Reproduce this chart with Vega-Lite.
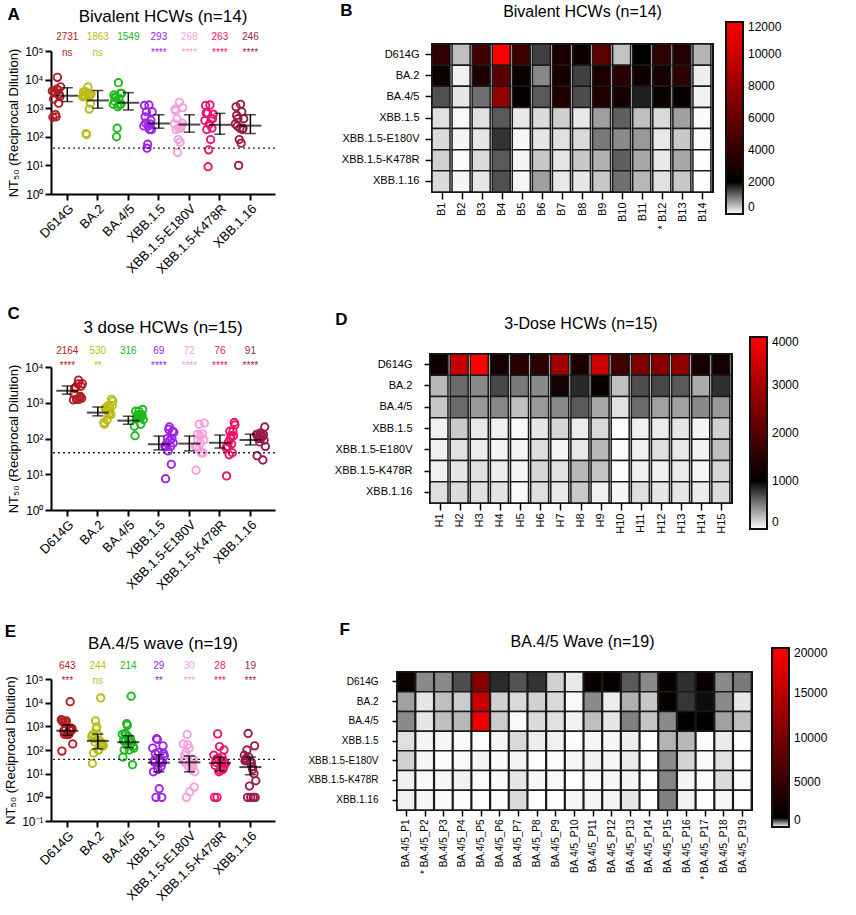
{
"$schema": "https://vega.github.io/schema/vega-lite/v6.json",
"padding": {"left": 4, "top": 2, "right": 5, "bottom": 5},
"config": {
  "font": "Liberation Sans",
  "view": {"stroke": null},
  "axis": {"domainColor": "black", "tickColor": "black", "labelColor": "black", "titleColor": "black", "grid": false, "titleFontWeight": "normal", "labelFont": "Liberation Sans", "titleFont": "Liberation Sans"},
  "title": {"font": "Liberation Sans", "fontWeight": "normal", "color": "black"},
  "legend": {"labelFont": "Liberation Sans", "labelColor": "black"}
},
"datasets": {
  "bival": [
    {"d":"B1","v":"D614G","t":4000},{"d":"B2","v":"D614G","t":500},{"d":"B3","v":"D614G","t":4600},{"d":"B4","v":"D614G","t":12000},{"d":"B5","v":"D614G","t":4300},{"d":"B6","v":"D614G","t":1500},{"d":"B7","v":"D614G","t":3000},{"d":"B8","v":"D614G","t":2500},{"d":"B9","v":"D614G","t":5600},{"d":"B10","v":"D614G","t":480},{"d":"B11","v":"D614G","t":2100},{"d":"B12","v":"D614G","t":3800},{"d":"B13","v":"D614G","t":3400},{"d":"B14","v":"D614G","t":600},
    {"d":"B1","v":"BA.2","t":2500},{"d":"B2","v":"BA.2","t":120},{"d":"B3","v":"BA.2","t":3300},{"d":"B4","v":"BA.2","t":5500},{"d":"B5","v":"BA.2","t":2500},{"d":"B6","v":"BA.2","t":930},{"d":"B7","v":"BA.2","t":2900},{"d":"B8","v":"BA.2","t":1500},{"d":"B9","v":"BA.2","t":3100},{"d":"B10","v":"BA.2","t":3700},{"d":"B11","v":"BA.2","t":2700},{"d":"B12","v":"BA.2","t":2900},{"d":"B13","v":"BA.2","t":3800},{"d":"B14","v":"BA.2","t":130},
    {"d":"B1","v":"BA.4/5","t":1370},{"d":"B2","v":"BA.4/5","t":200},{"d":"B3","v":"BA.4/5","t":1120},{"d":"B4","v":"BA.4/5","t":7800},{"d":"B5","v":"BA.4/5","t":2200},{"d":"B6","v":"BA.4/5","t":1300},{"d":"B7","v":"BA.4/5","t":3300},{"d":"B8","v":"BA.4/5","t":1400},{"d":"B9","v":"BA.4/5","t":3300},{"d":"B10","v":"BA.4/5","t":2900},{"d":"B11","v":"BA.4/5","t":1750},{"d":"B12","v":"BA.4/5","t":2500},{"d":"B13","v":"BA.4/5","t":2300},{"d":"B14","v":"BA.4/5","t":100},
    {"d":"B1","v":"XBB.1.5","t":240},{"d":"B2","v":"XBB.1.5","t":55},{"d":"B3","v":"XBB.1.5","t":240},{"d":"B4","v":"XBB.1.5","t":1300},{"d":"B5","v":"XBB.1.5","t":180},{"d":"B6","v":"XBB.1.5","t":280},{"d":"B7","v":"XBB.1.5","t":380},{"d":"B8","v":"XBB.1.5","t":180},{"d":"B9","v":"XBB.1.5","t":750},{"d":"B10","v":"XBB.1.5","t":1250},{"d":"B11","v":"XBB.1.5","t":500},{"d":"B12","v":"XBB.1.5","t":300},{"d":"B13","v":"XBB.1.5","t":750},{"d":"B14","v":"XBB.1.5","t":40},
    {"d":"B1","v":"XBB.1.5-E180V","t":280},{"d":"B2","v":"XBB.1.5-E180V","t":80},{"d":"B3","v":"XBB.1.5-E180V","t":200},{"d":"B4","v":"XBB.1.5-E180V","t":1600},{"d":"B5","v":"XBB.1.5-E180V","t":65},{"d":"B6","v":"XBB.1.5-E180V","t":200},{"d":"B7","v":"XBB.1.5-E180V","t":240},{"d":"B8","v":"XBB.1.5-E180V","t":300},{"d":"B9","v":"XBB.1.5-E180V","t":1050},{"d":"B10","v":"XBB.1.5-E180V","t":920},{"d":"B11","v":"XBB.1.5-E180V","t":800},{"d":"B12","v":"XBB.1.5-E180V","t":180},{"d":"B13","v":"XBB.1.5-E180V","t":430},{"d":"B14","v":"XBB.1.5-E180V","t":28},
    {"d":"B1","v":"XBB.1.5-K478R","t":370},{"d":"B2","v":"XBB.1.5-K478R","t":35},{"d":"B3","v":"XBB.1.5-K478R","t":280},{"d":"B4","v":"XBB.1.5-K478R","t":1300},{"d":"B5","v":"XBB.1.5-K478R","t":80},{"d":"B6","v":"XBB.1.5-K478R","t":430},{"d":"B7","v":"XBB.1.5-K478R","t":200},{"d":"B8","v":"XBB.1.5-K478R","t":430},{"d":"B9","v":"XBB.1.5-K478R","t":620},{"d":"B10","v":"XBB.1.5-K478R","t":1250},{"d":"B11","v":"XBB.1.5-K478R","t":680},{"d":"B12","v":"XBB.1.5-K478R","t":180},{"d":"B13","v":"XBB.1.5-K478R","t":680},{"d":"B14","v":"XBB.1.5-K478R","t":9},
    {"d":"B1","v":"XBB.1.16","t":280},{"d":"B2","v":"XBB.1.16","t":80},{"d":"B3","v":"XBB.1.16","t":200},{"d":"B4","v":"XBB.1.16","t":1370},{"d":"B5","v":"XBB.1.16","t":60},{"d":"B6","v":"XBB.1.16","t":750},{"d":"B7","v":"XBB.1.16","t":180},{"d":"B8","v":"XBB.1.16","t":200},{"d":"B9","v":"XBB.1.16","t":430},{"d":"B10","v":"XBB.1.16","t":1120},{"d":"B11","v":"XBB.1.16","t":560},{"d":"B12","v":"XBB.1.16","t":240},{"d":"B13","v":"XBB.1.16","t":430},{"d":"B14","v":"XBB.1.16","t":10}
  ],
  "dose3": [
    {"d":"H1","v":"D614G","t":1200},{"d":"H2","v":"D614G","t":3350},{"d":"H3","v":"D614G","t":4300},{"d":"H4","v":"D614G","t":1250},{"d":"H5","v":"D614G","t":1450},{"d":"H6","v":"D614G","t":1500},{"d":"H7","v":"D614G","t":2900},{"d":"H8","v":"D614G","t":1330},{"d":"H9","v":"D614G","t":3400},{"d":"H10","v":"D614G","t":1750},{"d":"H11","v":"D614G","t":2500},{"d":"H12","v":"D614G","t":2600},{"d":"H13","v":"D614G","t":2700},{"d":"H14","v":"D614G","t":1240},{"d":"H15","v":"D614G","t":1250},
    {"d":"H1","v":"BA.2","t":280},{"d":"H2","v":"BA.2","t":580},{"d":"H3","v":"BA.2","t":460},{"d":"H4","v":"BA.2","t":720},{"d":"H5","v":"BA.2","t":520},{"d":"H6","v":"BA.2","t":460},{"d":"H7","v":"BA.2","t":1250},{"d":"H8","v":"BA.2","t":840},{"d":"H9","v":"BA.2","t":1100},{"d":"H10","v":"BA.2","t":250},{"d":"H11","v":"BA.2","t":690},{"d":"H12","v":"BA.2","t":720},{"d":"H13","v":"BA.2","t":650},{"d":"H14","v":"BA.2","t":330},{"d":"H15","v":"BA.2","t":810},
    {"d":"H1","v":"BA.4/5","t":220},{"d":"H2","v":"BA.4/5","t":580},{"d":"H3","v":"BA.4/5","t":400},{"d":"H4","v":"BA.4/5","t":470},{"d":"H5","v":"BA.4/5","t":250},{"d":"H6","v":"BA.4/5","t":400},{"d":"H7","v":"BA.4/5","t":460},{"d":"H8","v":"BA.4/5","t":650},{"d":"H9","v":"BA.4/5","t":340},{"d":"H10","v":"BA.4/5","t":120},{"d":"H11","v":"BA.4/5","t":580},{"d":"H12","v":"BA.4/5","t":370},{"d":"H13","v":"BA.4/5","t":370},{"d":"H14","v":"BA.4/5","t":460},{"d":"H15","v":"BA.4/5","t":400},
    {"d":"H1","v":"XBB.1.5","t":60},{"d":"H2","v":"XBB.1.5","t":210},{"d":"H3","v":"XBB.1.5","t":90},{"d":"H4","v":"XBB.1.5","t":60},{"d":"H5","v":"XBB.1.5","t":19},{"d":"H6","v":"XBB.1.5","t":100},{"d":"H7","v":"XBB.1.5","t":160},{"d":"H8","v":"XBB.1.5","t":75},{"d":"H9","v":"XBB.1.5","t":150},{"d":"H10","v":"XBB.1.5","t":7.5},{"d":"H11","v":"XBB.1.5","t":60},{"d":"H12","v":"XBB.1.5","t":75},{"d":"H13","v":"XBB.1.5","t":100},{"d":"H14","v":"XBB.1.5","t":45},{"d":"H15","v":"XBB.1.5","t":180},
    {"d":"H1","v":"XBB.1.5-E180V","t":60},{"d":"H2","v":"XBB.1.5-E180V","t":120},{"d":"H3","v":"XBB.1.5-E180V","t":75},{"d":"H4","v":"XBB.1.5-E180V","t":40},{"d":"H5","v":"XBB.1.5-E180V","t":40},{"d":"H6","v":"XBB.1.5-E180V","t":135},{"d":"H7","v":"XBB.1.5-E180V","t":40},{"d":"H8","v":"XBB.1.5-E180V","t":90},{"d":"H9","v":"XBB.1.5-E180V","t":270},{"d":"H10","v":"XBB.1.5-E180V","t":13},{"d":"H11","v":"XBB.1.5-E180V","t":60},{"d":"H12","v":"XBB.1.5-E180V","t":130},{"d":"H13","v":"XBB.1.5-E180V","t":90},{"d":"H14","v":"XBB.1.5-E180V","t":50},{"d":"H15","v":"XBB.1.5-E180V","t":250},
    {"d":"H1","v":"XBB.1.5-K478R","t":55},{"d":"H2","v":"XBB.1.5-K478R","t":100},{"d":"H3","v":"XBB.1.5-K478R","t":120},{"d":"H4","v":"XBB.1.5-K478R","t":70},{"d":"H5","v":"XBB.1.5-K478R","t":40},{"d":"H6","v":"XBB.1.5-K478R","t":160},{"d":"H7","v":"XBB.1.5-K478R","t":120},{"d":"H8","v":"XBB.1.5-K478R","t":280},{"d":"H9","v":"XBB.1.5-K478R","t":240},{"d":"H10","v":"XBB.1.5-K478R","t":9},{"d":"H11","v":"XBB.1.5-K478R","t":60},{"d":"H12","v":"XBB.1.5-K478R","t":60},{"d":"H13","v":"XBB.1.5-K478R","t":80},{"d":"H14","v":"XBB.1.5-K478R","t":35},{"d":"H15","v":"XBB.1.5-K478R","t":160},
    {"d":"H1","v":"XBB.1.16","t":130},{"d":"H2","v":"XBB.1.16","t":140},{"d":"H3","v":"XBB.1.16","t":120},{"d":"H4","v":"XBB.1.16","t":110},{"d":"H5","v":"XBB.1.16","t":25},{"d":"H6","v":"XBB.1.16","t":130},{"d":"H7","v":"XBB.1.16","t":90},{"d":"H8","v":"XBB.1.16","t":210},{"d":"H9","v":"XBB.1.16","t":60},{"d":"H10","v":"XBB.1.16","t":33},{"d":"H11","v":"XBB.1.16","t":130},{"d":"H12","v":"XBB.1.16","t":100},{"d":"H13","v":"XBB.1.16","t":100},{"d":"H14","v":"XBB.1.16","t":80},{"d":"H15","v":"XBB.1.16","t":140}
  ],
  "wave": [
    {"d":"BA.4/5_P1","v":"D614G","t":1900},{"d":"BA.4/5_P2","v":"D614G","t":460},{"d":"BA.4/5_P3","v":"D614G","t":460},{"d":"BA.4/5_P4","v":"D614G","t":690},{"d":"BA.4/5_P5","v":"D614G","t":11000},{"d":"BA.4/5_P6","v":"D614G","t":830},{"d":"BA.4/5_P7","v":"D614G","t":670},{"d":"BA.4/5_P8","v":"D614G","t":800},{"d":"BA.4/5_P9","v":"D614G","t":180},{"d":"BA.4/5_P10","v":"D614G","t":90},{"d":"BA.4/5_P11","v":"D614G","t":1800},{"d":"BA.4/5_P12","v":"D614G","t":1500},{"d":"BA.4/5_P13","v":"D614G","t":650},{"d":"BA.4/5_P14","v":"D614G","t":460},{"d":"BA.4/5_P15","v":"D614G","t":1600},{"d":"BA.4/5_P16","v":"D614G","t":810},{"d":"BA.4/5_P17","v":"D614G","t":1700},{"d":"BA.4/5_P18","v":"D614G","t":460},{"d":"BA.4/5_P19","v":"D614G","t":520},
    {"d":"BA.4/5_P1","v":"BA.2","t":370},{"d":"BA.4/5_P2","v":"BA.2","t":100},{"d":"BA.4/5_P3","v":"BA.2","t":250},{"d":"BA.4/5_P4","v":"BA.2","t":200},{"d":"BA.4/5_P5","v":"BA.2","t":15900},{"d":"BA.4/5_P6","v":"BA.2","t":180},{"d":"BA.4/5_P7","v":"BA.2","t":150},{"d":"BA.4/5_P8","v":"BA.2","t":180},{"d":"BA.4/5_P9","v":"BA.2","t":150},{"d":"BA.4/5_P10","v":"BA.2","t":27},{"d":"BA.4/5_P11","v":"BA.2","t":460},{"d":"BA.4/5_P12","v":"BA.2","t":75},{"d":"BA.4/5_P13","v":"BA.2","t":310},{"d":"BA.4/5_P14","v":"BA.2","t":220},{"d":"BA.4/5_P15","v":"BA.2","t":1700},{"d":"BA.4/5_P16","v":"BA.2","t":790},{"d":"BA.4/5_P17","v":"BA.2","t":950},{"d":"BA.4/5_P18","v":"BA.2","t":460},{"d":"BA.4/5_P19","v":"BA.2","t":100},
    {"d":"BA.4/5_P1","v":"BA.4/5","t":460},{"d":"BA.4/5_P2","v":"BA.4/5","t":100},{"d":"BA.4/5_P3","v":"BA.4/5","t":250},{"d":"BA.4/5_P4","v":"BA.4/5","t":280},{"d":"BA.4/5_P5","v":"BA.4/5","t":18700},{"d":"BA.4/5_P6","v":"BA.4/5","t":200},{"d":"BA.4/5_P7","v":"BA.4/5","t":24},{"d":"BA.4/5_P8","v":"BA.4/5","t":140},{"d":"BA.4/5_P9","v":"BA.4/5","t":120},{"d":"BA.4/5_P10","v":"BA.4/5","t":50},{"d":"BA.4/5_P11","v":"BA.4/5","t":250},{"d":"BA.4/5_P12","v":"BA.4/5","t":100},{"d":"BA.4/5_P13","v":"BA.4/5","t":500},{"d":"BA.4/5_P14","v":"BA.4/5","t":230},{"d":"BA.4/5_P15","v":"BA.4/5","t":460},{"d":"BA.4/5_P16","v":"BA.4/5","t":1300},{"d":"BA.4/5_P17","v":"BA.4/5","t":1100},{"d":"BA.4/5_P18","v":"BA.4/5","t":370},{"d":"BA.4/5_P19","v":"BA.4/5","t":250},
    {"d":"BA.4/5_P1","v":"XBB.1.5","t":120},{"d":"BA.4/5_P2","v":"XBB.1.5","t":40},{"d":"BA.4/5_P3","v":"XBB.1.5","t":35},{"d":"BA.4/5_P4","v":"XBB.1.5","t":20},{"d":"BA.4/5_P5","v":"XBB.1.5","t":1},{"d":"BA.4/5_P6","v":"XBB.1.5","t":30},{"d":"BA.4/5_P7","v":"XBB.1.5","t":150},{"d":"BA.4/5_P8","v":"XBB.1.5","t":70},{"d":"BA.4/5_P9","v":"XBB.1.5","t":55},{"d":"BA.4/5_P10","v":"XBB.1.5","t":12},{"d":"BA.4/5_P11","v":"XBB.1.5","t":35},{"d":"BA.4/5_P12","v":"XBB.1.5","t":30},{"d":"BA.4/5_P13","v":"XBB.1.5","t":70},{"d":"BA.4/5_P14","v":"XBB.1.5","t":1},{"d":"BA.4/5_P15","v":"XBB.1.5","t":300},{"d":"BA.4/5_P16","v":"XBB.1.5","t":280},{"d":"BA.4/5_P17","v":"XBB.1.5","t":15},{"d":"BA.4/5_P18","v":"XBB.1.5","t":80},{"d":"BA.4/5_P19","v":"XBB.1.5","t":2.3},
    {"d":"BA.4/5_P1","v":"XBB.1.5-E180V","t":180},{"d":"BA.4/5_P2","v":"XBB.1.5-E180V","t":30},{"d":"BA.4/5_P3","v":"XBB.1.5-E180V","t":15},{"d":"BA.4/5_P4","v":"XBB.1.5-E180V","t":25},{"d":"BA.4/5_P5","v":"XBB.1.5-E180V","t":40},{"d":"BA.4/5_P6","v":"XBB.1.5-E180V","t":20},{"d":"BA.4/5_P7","v":"XBB.1.5-E180V","t":40},{"d":"BA.4/5_P8","v":"XBB.1.5-E180V","t":2.7},{"d":"BA.4/5_P9","v":"XBB.1.5-E180V","t":12},{"d":"BA.4/5_P10","v":"XBB.1.5-E180V","t":35},{"d":"BA.4/5_P11","v":"XBB.1.5-E180V","t":60},{"d":"BA.4/5_P12","v":"XBB.1.5-E180V","t":30},{"d":"BA.4/5_P13","v":"XBB.1.5-E180V","t":80},{"d":"BA.4/5_P14","v":"XBB.1.5-E180V","t":1},{"d":"BA.4/5_P15","v":"XBB.1.5-E180V","t":450},{"d":"BA.4/5_P16","v":"XBB.1.5-E180V","t":170},{"d":"BA.4/5_P17","v":"XBB.1.5-E180V","t":20},{"d":"BA.4/5_P18","v":"XBB.1.5-E180V","t":120},{"d":"BA.4/5_P19","v":"XBB.1.5-E180V","t":1.7},
    {"d":"BA.4/5_P1","v":"XBB.1.5-K478R","t":60},{"d":"BA.4/5_P2","v":"XBB.1.5-K478R","t":20},{"d":"BA.4/5_P3","v":"XBB.1.5-K478R","t":35},{"d":"BA.4/5_P4","v":"XBB.1.5-K478R","t":50},{"d":"BA.4/5_P5","v":"XBB.1.5-K478R","t":15},{"d":"BA.4/5_P6","v":"XBB.1.5-K478R","t":18},{"d":"BA.4/5_P7","v":"XBB.1.5-K478R","t":100},{"d":"BA.4/5_P8","v":"XBB.1.5-K478R","t":30},{"d":"BA.4/5_P9","v":"XBB.1.5-K478R","t":25},{"d":"BA.4/5_P10","v":"XBB.1.5-K478R","t":1},{"d":"BA.4/5_P11","v":"XBB.1.5-K478R","t":22},{"d":"BA.4/5_P12","v":"XBB.1.5-K478R","t":30},{"d":"BA.4/5_P13","v":"XBB.1.5-K478R","t":40},{"d":"BA.4/5_P14","v":"XBB.1.5-K478R","t":1},{"d":"BA.4/5_P15","v":"XBB.1.5-K478R","t":480},{"d":"BA.4/5_P16","v":"XBB.1.5-K478R","t":45},{"d":"BA.4/5_P17","v":"XBB.1.5-K478R","t":12},{"d":"BA.4/5_P18","v":"XBB.1.5-K478R","t":140},{"d":"BA.4/5_P19","v":"XBB.1.5-K478R","t":14},
    {"d":"BA.4/5_P1","v":"XBB.1.16","t":60},{"d":"BA.4/5_P2","v":"XBB.1.16","t":30},{"d":"BA.4/5_P3","v":"XBB.1.16","t":20},{"d":"BA.4/5_P4","v":"XBB.1.16","t":15},{"d":"BA.4/5_P5","v":"XBB.1.16","t":1},{"d":"BA.4/5_P6","v":"XBB.1.16","t":10},{"d":"BA.4/5_P7","v":"XBB.1.16","t":150},{"d":"BA.4/5_P8","v":"XBB.1.16","t":1},{"d":"BA.4/5_P9","v":"XBB.1.16","t":5},{"d":"BA.4/5_P10","v":"XBB.1.16","t":35},{"d":"BA.4/5_P11","v":"XBB.1.16","t":40},{"d":"BA.4/5_P12","v":"XBB.1.16","t":45},{"d":"BA.4/5_P13","v":"XBB.1.16","t":100},{"d":"BA.4/5_P14","v":"XBB.1.16","t":1},{"d":"BA.4/5_P15","v":"XBB.1.16","t":500},{"d":"BA.4/5_P16","v":"XBB.1.16","t":50},{"d":"BA.4/5_P17","v":"XBB.1.16","t":3},{"d":"BA.4/5_P18","v":"XBB.1.16","t":30},{"d":"BA.4/5_P19","v":"XBB.1.16","t":1}
  ],
  "bivalSum": [
    {"v":"D614G","gm":2731,"lo":1700,"hi":5200,"sig":"ns"},
    {"v":"BA.2","gm":1863,"lo":1000,"hi":4150,"sig":"ns"},
    {"v":"BA.4/5","gm":1549,"lo":870,"hi":3500,"sig":""},
    {"v":"XBB.1.5","gm":293,"lo":200,"hi":590,"sig":"****"},
    {"v":"XBB.1.5-E180V","gm":268,"lo":145,"hi":590,"sig":"****"},
    {"v":"XBB.1.5-K478R","gm":263,"lo":123,"hi":660,"sig":"****"},
    {"v":"XBB.1.16","gm":246,"lo":130,"hi":590,"sig":"****"}
  ],
  "dose3Sum": [
    {"v":"D614G","gm":2164,"lo":1740,"hi":2950,"sig":"****"},
    {"v":"BA.2","gm":530,"lo":430,"hi":760,"sig":"**"},
    {"v":"BA.4/5","gm":316,"lo":250,"hi":420,"sig":""},
    {"v":"XBB.1.5","gm":69,"lo":48,"hi":117,"sig":"****"},
    {"v":"XBB.1.5-E180V","gm":72,"lo":45,"hi":117,"sig":"****"},
    {"v":"XBB.1.5-K478R","gm":76,"lo":54,"hi":125,"sig":"****"},
    {"v":"XBB.1.16","gm":91,"lo":66,"hi":132,"sig":"****"}
  ],
  "waveSum": [
    {"v":"D614G","gm":643,"lo":420,"hi":1150,"sig":"***"},
    {"v":"BA.2","gm":244,"lo":112,"hi":470,"sig":"ns"},
    {"v":"BA.4/5","gm":214,"lo":125,"hi":400,"sig":""},
    {"v":"XBB.1.5","gm":29,"lo":12,"hi":63,"sig":"**"},
    {"v":"XBB.1.5-E180V","gm":30,"lo":12,"hi":56,"sig":"***"},
    {"v":"XBB.1.5-K478R","gm":28,"lo":13,"hi":50,"sig":"***"},
    {"v":"XBB.1.16","gm":19,"lo":9,"hi":50,"sig":"***"}
  ],
  "lod": [{"lod": 40}]
},
"spacing": 28,
"vconcat": [
 {"spacing": 64, "hconcat": [
  {"title": {"text": "A", "anchor": "start", "frame": "bounds", "fontSize": 17, "fontWeight": "bold", "dy": 16, "offset": 0},
   "vconcat": [{
    "width": 224, "height": 150,
    "title": {"text": "Bivalent HCWs (n=14)", "fontSize": 17, "offset": 6},
    "layer": [
     {"data": {"name": "bival"},
      "mark": {"type": "point", "filled": false, "size": 55, "strokeWidth": 1.9, "opacity": 1},
      "encoding": {
       "x": {"field": "v", "type": "nominal", "bandPosition": 0, "sort": ["D614G","BA.2","BA.4/5","XBB.1.5","XBB.1.5-E180V","XBB.1.5-K478R","XBB.1.16"], "scale": {"paddingInner": 0, "paddingOuter": 0.17, "align": 0.1},
             "axis": {"title": null, "labelAngle": -45, "labelFontSize": 13, "domainWidth": 2, "tickWidth": 2, "tickSize": 6, "labelPadding": 2}},
       "xOffset": {"field": "d", "type": "nominal", "scale": {"paddingOuter": 0.4}},
       "y": {"field": "t", "type": "quantitative", "scale": {"type": "log", "domain": [1, 100000], "range": [150, 7]},
             "axis": {"title": "NT₅₀ (Reciprocal Dilution)", "values": [1, 10, 100, 1000, 10000, 100000], "labelExpr": "'10' + ['⁻¹','⁰','¹','²','³','⁴','⁵'][round(log(datum.value)/LN10)+1]", "domainWidth": 2, "tickWidth": 2, "tickSize": 6, "labelFontSize": 12, "titleFontSize": 13, "titlePadding": 4}},
       "color": {"field": "v", "type": "nominal", "scale": {"domain": ["D614G","BA.2","BA.4/5","XBB.1.5","XBB.1.5-E180V","XBB.1.5-K478R","XBB.1.16"], "range": ["#b01e23","#bcbc16","#20b820","#a020e8","#f5a0dc","#ee1368","#9a1b4b"]}, "legend": null}
      }},
     {"data": {"name": "lod"}, "mark": {"type": "rule", "strokeDash": [2, 3], "strokeWidth": 1.3, "color": "#222"},
      "encoding": {"y": {"field": "lod", "type": "quantitative"}}},
     {"data": {"name": "bivalSum"}, "mark": {"type": "rule", "color": "black", "strokeWidth": 1.5},
      "encoding": {"x": {"field": "v", "type": "nominal", "sort": ["D614G","BA.2","BA.4/5","XBB.1.5","XBB.1.5-E180V","XBB.1.5-K478R","XBB.1.16"]}, "y": {"field": "lo", "type": "quantitative"}, "y2": {"field": "hi"}}},
     {"data": {"name": "bivalSum"}, "mark": {"type": "tick", "color": "black", "size": 22, "thickness": 2},
      "encoding": {"x": {"field": "v", "type": "nominal", "sort": ["D614G","BA.2","BA.4/5","XBB.1.5","XBB.1.5-E180V","XBB.1.5-K478R","XBB.1.16"]}, "y": {"field": "gm", "type": "quantitative"}}},
     {"data": {"name": "bivalSum"}, "mark": {"type": "tick", "color": "black", "size": 11, "thickness": 1.5},
      "encoding": {"x": {"field": "v", "type": "nominal", "sort": ["D614G","BA.2","BA.4/5","XBB.1.5","XBB.1.5-E180V","XBB.1.5-K478R","XBB.1.16"]}, "y": {"field": "lo", "type": "quantitative"}}},
     {"data": {"name": "bivalSum"}, "mark": {"type": "tick", "color": "black", "size": 11, "thickness": 1.5},
      "encoding": {"x": {"field": "v", "type": "nominal", "sort": ["D614G","BA.2","BA.4/5","XBB.1.5","XBB.1.5-E180V","XBB.1.5-K478R","XBB.1.16"]}, "y": {"field": "hi", "type": "quantitative"}}},
     {"data": {"name": "bivalSum"}, "mark": {"type": "text", "fontSize": 10, "dy": -14},
      "encoding": {"x": {"field": "v", "type": "nominal", "sort": ["D614G","BA.2","BA.4/5","XBB.1.5","XBB.1.5-E180V","XBB.1.5-K478R","XBB.1.16"]}, "y": {"datum": 100000, "type": "quantitative"}, "text": {"field": "gm", "type": "quantitative", "format": "d"}, "color": {"field": "v", "type": "nominal", "legend": null}}},
     {"data": {"name": "bivalSum"}, "mark": {"type": "text", "fontSize": 10, "dy": 2},
      "encoding": {"x": {"field": "v", "type": "nominal", "sort": ["D614G","BA.2","BA.4/5","XBB.1.5","XBB.1.5-E180V","XBB.1.5-K478R","XBB.1.16"]}, "y": {"datum": 100000, "type": "quantitative"}, "text": {"field": "sig", "type": "nominal"}, "color": {"field": "v", "type": "nominal", "legend": null}}}
    ]
   }]
  },
  {"title": {"text": "B", "anchor": "start", "frame": "bounds", "fontSize": 17, "fontWeight": "bold", "dy": 17, "offset": 0},
   "vconcat": [{
    "width": 281, "height": 148,
    "view": {"stroke": "#111", "strokeWidth": 2},
    "title": {"text": "Bivalent HCWs (n=14)", "fontSize": 16, "offset": 23, "dx": 10},
    "data": {"name": "bival"},
    "mark": {"type": "rect", "stroke": "#1a1a1a", "strokeWidth": 1.5},
    "encoding": {
     "x": {"field": "d", "type": "ordinal", "sort": ["B1","B2","B3","B4","B5","B6","B7","B8","B9","B10","B11","B12","B13","B14"], "scale": {"paddingInner": 0, "paddingOuter": 0},
           "axis": {"title": null, "labelAngle": 270, "labelFontSize": 11, "tickSize": 7, "tickWidth": 1.5, "domain": false, "labelPadding": 3, "labelExpr": "datum.value == 'B12' ? '*  ' + datum.value : datum.value"}},
     "y": {"field": "v", "type": "ordinal", "sort": ["D614G","BA.2","BA.4/5","XBB.1.5","XBB.1.5-E180V","XBB.1.5-K478R","XBB.1.16"], "scale": {"paddingInner": 0, "paddingOuter": 0},
           "axis": {"title": null, "labelFontSize": 11, "tickSize": 7, "tickWidth": 1.5, "domain": false, "labelPadding": 6}},
     "color": {"field": "t", "type": "quantitative", "scale": {"domain": [0, 2000, 12000], "range": ["#ffffff", "#000000", "#ff0000"], "interpolate": "rgb"},
               "legend": {"title": null, "orient": "none", "legendX": 294, "legendY": -22, "direction": "vertical", "gradientLength": 192, "gradientThickness": 17, "gradientStrokeColor": "#111", "gradientStrokeWidth": 2, "values": [0, 2000, 4000, 6000, 8000, 10000, 12000], "format": "d", "labelFontSize": 12, "labelOffset": 5}}
    }
   }]
  }
 ]},
 {"spacing": 57, "hconcat": [
  {"title": {"text": "C", "anchor": "start", "frame": "bounds", "fontSize": 17, "fontWeight": "bold", "dy": 4, "offset": 0},
   "vconcat": [{
    "width": 224, "height": 156,
    "title": {"text": "3 dose HCWs (n=15)", "fontSize": 17, "offset": 9},
    "layer": [
     {"data": {"name": "dose3"},
      "mark": {"type": "point", "filled": false, "size": 55, "strokeWidth": 1.9, "opacity": 1},
      "encoding": {
       "x": {"field": "v", "type": "nominal", "bandPosition": 0, "sort": ["D614G","BA.2","BA.4/5","XBB.1.5","XBB.1.5-E180V","XBB.1.5-K478R","XBB.1.16"], "scale": {"paddingInner": 0, "paddingOuter": 0.17, "align": 0.1},
             "axis": {"title": null, "labelAngle": -45, "labelFontSize": 13, "domainWidth": 2, "tickWidth": 2, "tickSize": 6, "labelPadding": 2}},
       "xOffset": {"field": "d", "type": "nominal", "scale": {"paddingOuter": 0.4}},
       "y": {"field": "t", "type": "quantitative", "scale": {"type": "log", "domain": [1, 10000], "range": [156, 13]},
             "axis": {"title": "NT₅₀ (Reciprocal Dilution)", "values": [1, 10, 100, 1000, 10000], "labelExpr": "'10' + ['⁻¹','⁰','¹','²','³','⁴','⁵'][round(log(datum.value)/LN10)+1]", "domainWidth": 2, "tickWidth": 2, "tickSize": 6, "labelFontSize": 12, "titleFontSize": 13, "titlePadding": 4}},
       "color": {"field": "v", "type": "nominal", "scale": {"domain": ["D614G","BA.2","BA.4/5","XBB.1.5","XBB.1.5-E180V","XBB.1.5-K478R","XBB.1.16"], "range": ["#b01e23","#bcbc16","#20b820","#a020e8","#f5a0dc","#ee1368","#9a1b4b"]}, "legend": null}
      }},
     {"data": {"name": "lod"}, "mark": {"type": "rule", "strokeDash": [2, 3], "strokeWidth": 1.3, "color": "#222"},
      "encoding": {"y": {"field": "lod", "type": "quantitative"}}},
     {"data": {"name": "dose3Sum"}, "mark": {"type": "rule", "color": "black", "strokeWidth": 1.5},
      "encoding": {"x": {"field": "v", "type": "nominal", "sort": ["D614G","BA.2","BA.4/5","XBB.1.5","XBB.1.5-E180V","XBB.1.5-K478R","XBB.1.16"]}, "y": {"field": "lo", "type": "quantitative"}, "y2": {"field": "hi"}}},
     {"data": {"name": "dose3Sum"}, "mark": {"type": "tick", "color": "black", "size": 22, "thickness": 2},
      "encoding": {"x": {"field": "v", "type": "nominal", "sort": ["D614G","BA.2","BA.4/5","XBB.1.5","XBB.1.5-E180V","XBB.1.5-K478R","XBB.1.16"]}, "y": {"field": "gm", "type": "quantitative"}}},
     {"data": {"name": "dose3Sum"}, "mark": {"type": "tick", "color": "black", "size": 11, "thickness": 1.5},
      "encoding": {"x": {"field": "v", "type": "nominal", "sort": ["D614G","BA.2","BA.4/5","XBB.1.5","XBB.1.5-E180V","XBB.1.5-K478R","XBB.1.16"]}, "y": {"field": "lo", "type": "quantitative"}}},
     {"data": {"name": "dose3Sum"}, "mark": {"type": "tick", "color": "black", "size": 11, "thickness": 1.5},
      "encoding": {"x": {"field": "v", "type": "nominal", "sort": ["D614G","BA.2","BA.4/5","XBB.1.5","XBB.1.5-E180V","XBB.1.5-K478R","XBB.1.16"]}, "y": {"field": "hi", "type": "quantitative"}}},
     {"data": {"name": "dose3Sum"}, "mark": {"type": "text", "fontSize": 10, "dy": -16},
      "encoding": {"x": {"field": "v", "type": "nominal", "sort": ["D614G","BA.2","BA.4/5","XBB.1.5","XBB.1.5-E180V","XBB.1.5-K478R","XBB.1.16"]}, "y": {"datum": 10000, "type": "quantitative"}, "text": {"field": "gm", "type": "quantitative", "format": "d"}, "color": {"field": "v", "type": "nominal", "legend": null}}},
     {"data": {"name": "dose3Sum"}, "mark": {"type": "text", "fontSize": 10, "dy": -1},
      "encoding": {"x": {"field": "v", "type": "nominal", "sort": ["D614G","BA.2","BA.4/5","XBB.1.5","XBB.1.5-E180V","XBB.1.5-K478R","XBB.1.16"]}, "y": {"datum": 10000, "type": "quantitative"}, "text": {"field": "sig", "type": "nominal"}, "color": {"field": "v", "type": "nominal", "legend": null}}}
    ]
   }]
  },
  {"title": {"text": "D", "anchor": "start", "frame": "bounds", "fontSize": 17, "fontWeight": "bold", "dy": 14, "dx": 2, "offset": 0},
   "vconcat": [{
    "width": 302, "height": 149,
    "view": {"stroke": "#111", "strokeWidth": 2},
    "title": {"text": "3-Dose HCWs (n=15)", "fontSize": 16, "offset": 21},
    "data": {"name": "dose3"},
    "mark": {"type": "rect", "stroke": "#1a1a1a", "strokeWidth": 1.5},
    "encoding": {
     "x": {"field": "d", "type": "ordinal", "sort": ["H1","H2","H3","H4","H5","H6","H7","H8","H9","H10","H11","H12","H13","H14","H15"], "scale": {"paddingInner": 0, "paddingOuter": 0},
           "axis": {"title": null, "labelAngle": 270, "labelFontSize": 11, "tickSize": 7, "tickWidth": 1.5, "domain": false, "labelPadding": 3}},
     "y": {"field": "v", "type": "ordinal", "sort": ["D614G","BA.2","BA.4/5","XBB.1.5","XBB.1.5-E180V","XBB.1.5-K478R","XBB.1.16"], "scale": {"paddingInner": 0, "paddingOuter": 0},
           "axis": {"title": null, "labelFontSize": 11, "tickSize": 6, "tickWidth": 1.5, "domain": false, "labelPadding": 12}},
     "color": {"field": "t", "type": "quantitative", "scale": {"domain": [0, 1000, 4000], "range": ["#ffffff", "#000000", "#ff0000"], "interpolate": "rgb"},
               "legend": {"title": null, "orient": "none", "legendX": 320, "legendY": -17, "direction": "vertical", "gradientLength": 192, "gradientThickness": 17, "gradientStrokeColor": "#111", "gradientStrokeWidth": 2, "values": [0, 1000, 2000, 3000, 4000], "format": "d", "labelFontSize": 12, "labelOffset": 5}}
    }
   }]
  }
 ]},
 {"spacing": 30, "hconcat": [
  {"title": {"text": "E", "anchor": "start", "frame": "bounds", "fontSize": 17, "fontWeight": "bold", "dy": 6, "offset": 0},
   "vconcat": [{
    "width": 224, "height": 149,
    "title": {"text": "BA.4/5 wave (n=19)", "fontSize": 17, "offset": 8},
    "layer": [
     {"data": {"name": "wave"},
      "mark": {"type": "point", "filled": false, "size": 55, "strokeWidth": 1.9, "opacity": 1},
      "encoding": {
       "x": {"field": "v", "type": "nominal", "bandPosition": 0, "sort": ["D614G","BA.2","BA.4/5","XBB.1.5","XBB.1.5-E180V","XBB.1.5-K478R","XBB.1.16"], "scale": {"paddingInner": 0, "paddingOuter": 0.17, "align": 0.1},
             "axis": {"title": null, "labelAngle": -45, "labelFontSize": 13, "domainWidth": 2, "tickWidth": 2, "tickSize": 6, "labelPadding": 2}},
       "xOffset": {"field": "d", "type": "nominal", "scale": {"paddingOuter": 0.4}},
       "y": {"field": "t", "type": "quantitative", "scale": {"type": "log", "domain": [0.1, 100000], "range": [149, 7]},
             "axis": {"title": "NT₅₀ (Reciprocal Dilution)", "values": [0.1, 1, 10, 100, 1000, 10000, 100000], "labelExpr": "'10' + ['⁻¹','⁰','¹','²','³','⁴','⁵'][round(log(datum.value)/LN10)+1]", "domainWidth": 2, "tickWidth": 2, "tickSize": 6, "labelFontSize": 12, "titleFontSize": 13, "titlePadding": 4}},
       "color": {"field": "v", "type": "nominal", "scale": {"domain": ["D614G","BA.2","BA.4/5","XBB.1.5","XBB.1.5-E180V","XBB.1.5-K478R","XBB.1.16"], "range": ["#b01e23","#bcbc16","#20b820","#a020e8","#f5a0dc","#ee1368","#9a1b4b"]}, "legend": null}
      }},
     {"data": {"name": "lod"}, "mark": {"type": "rule", "strokeDash": [2, 3], "strokeWidth": 1.3, "color": "#222"},
      "encoding": {"y": {"field": "lod", "type": "quantitative"}}},
     {"data": {"name": "waveSum"}, "mark": {"type": "rule", "color": "black", "strokeWidth": 1.5},
      "encoding": {"x": {"field": "v", "type": "nominal", "sort": ["D614G","BA.2","BA.4/5","XBB.1.5","XBB.1.5-E180V","XBB.1.5-K478R","XBB.1.16"]}, "y": {"field": "lo", "type": "quantitative"}, "y2": {"field": "hi"}}},
     {"data": {"name": "waveSum"}, "mark": {"type": "tick", "color": "black", "size": 22, "thickness": 2},
      "encoding": {"x": {"field": "v", "type": "nominal", "sort": ["D614G","BA.2","BA.4/5","XBB.1.5","XBB.1.5-E180V","XBB.1.5-K478R","XBB.1.16"]}, "y": {"field": "gm", "type": "quantitative"}}},
     {"data": {"name": "waveSum"}, "mark": {"type": "tick", "color": "black", "size": 11, "thickness": 1.5},
      "encoding": {"x": {"field": "v", "type": "nominal", "sort": ["D614G","BA.2","BA.4/5","XBB.1.5","XBB.1.5-E180V","XBB.1.5-K478R","XBB.1.16"]}, "y": {"field": "lo", "type": "quantitative"}}},
     {"data": {"name": "waveSum"}, "mark": {"type": "tick", "color": "black", "size": 11, "thickness": 1.5},
      "encoding": {"x": {"field": "v", "type": "nominal", "sort": ["D614G","BA.2","BA.4/5","XBB.1.5","XBB.1.5-E180V","XBB.1.5-K478R","XBB.1.16"]}, "y": {"field": "hi", "type": "quantitative"}}},
     {"data": {"name": "waveSum"}, "mark": {"type": "text", "fontSize": 10, "dy": -13},
      "encoding": {"x": {"field": "v", "type": "nominal", "sort": ["D614G","BA.2","BA.4/5","XBB.1.5","XBB.1.5-E180V","XBB.1.5-K478R","XBB.1.16"]}, "y": {"datum": 100000, "type": "quantitative"}, "text": {"field": "gm", "type": "quantitative", "format": "d"}, "color": {"field": "v", "type": "nominal", "legend": null}}},
     {"data": {"name": "waveSum"}, "mark": {"type": "text", "fontSize": 10, "dy": 2},
      "encoding": {"x": {"field": "v", "type": "nominal", "sort": ["D614G","BA.2","BA.4/5","XBB.1.5","XBB.1.5-E180V","XBB.1.5-K478R","XBB.1.16"]}, "y": {"datum": 100000, "type": "quantitative"}, "text": {"field": "sig", "type": "nominal"}, "color": {"field": "v", "type": "nominal", "legend": null}}}
    ]
   }]
  },
  {"title": {"text": "F", "anchor": "start", "frame": "bounds", "fontSize": 17, "fontWeight": "bold", "dy": 6, "dx": 33, "offset": 0},
   "vconcat": [{
    "width": 355, "height": 138,
    "view": {"stroke": "#111", "strokeWidth": 2},
    "title": {"text": "BA.4/5 Wave (n=19)", "fontSize": 16, "offset": 21, "dx": 8},
    "data": {"name": "wave"},
    "mark": {"type": "rect", "stroke": "#1a1a1a", "strokeWidth": 1.5},
    "encoding": {
     "x": {"field": "d", "type": "ordinal", "sort": ["BA.4/5_P1","BA.4/5_P2","BA.4/5_P3","BA.4/5_P4","BA.4/5_P5","BA.4/5_P6","BA.4/5_P7","BA.4/5_P8","BA.4/5_P9","BA.4/5_P10","BA.4/5_P11","BA.4/5_P12","BA.4/5_P13","BA.4/5_P14","BA.4/5_P15","BA.4/5_P16","BA.4/5_P17","BA.4/5_P18","BA.4/5_P19"], "scale": {"paddingInner": 0, "paddingOuter": 0},
           "axis": {"title": null, "labelAngle": 270, "labelFontSize": 10, "tickSize": 6, "tickWidth": 1.5, "domain": false, "labelPadding": 3, "labelExpr": "(datum.value == 'BA.4/5_P2' || datum.value == 'BA.4/5_P17') ? '* ' + datum.value : datum.value"}},
     "y": {"field": "v", "type": "ordinal", "sort": ["D614G","BA.2","BA.4/5","XBB.1.5","XBB.1.5-E180V","XBB.1.5-K478R","XBB.1.16"], "scale": {"paddingInner": 0, "paddingOuter": 0},
           "axis": {"title": null, "labelFontSize": 10, "tickSize": 5, "tickWidth": 1.5, "domain": false, "labelPadding": 14}},
     "color": {"field": "t", "type": "quantitative", "scale": {"domain": [0, 1000, 20000], "range": ["#ffffff", "#000000", "#ff0000"], "interpolate": "rgb"},
               "legend": {"title": null, "orient": "none", "legendX": 375, "legendY": -24, "direction": "vertical", "gradientLength": 179, "gradientThickness": 17, "gradientStrokeColor": "#111", "gradientStrokeWidth": 2, "values": [0, 5000, 10000, 15000, 20000], "format": "d", "labelFontSize": 12, "labelOffset": 5}}
    }
   }]
  }
 ]}
]
}
